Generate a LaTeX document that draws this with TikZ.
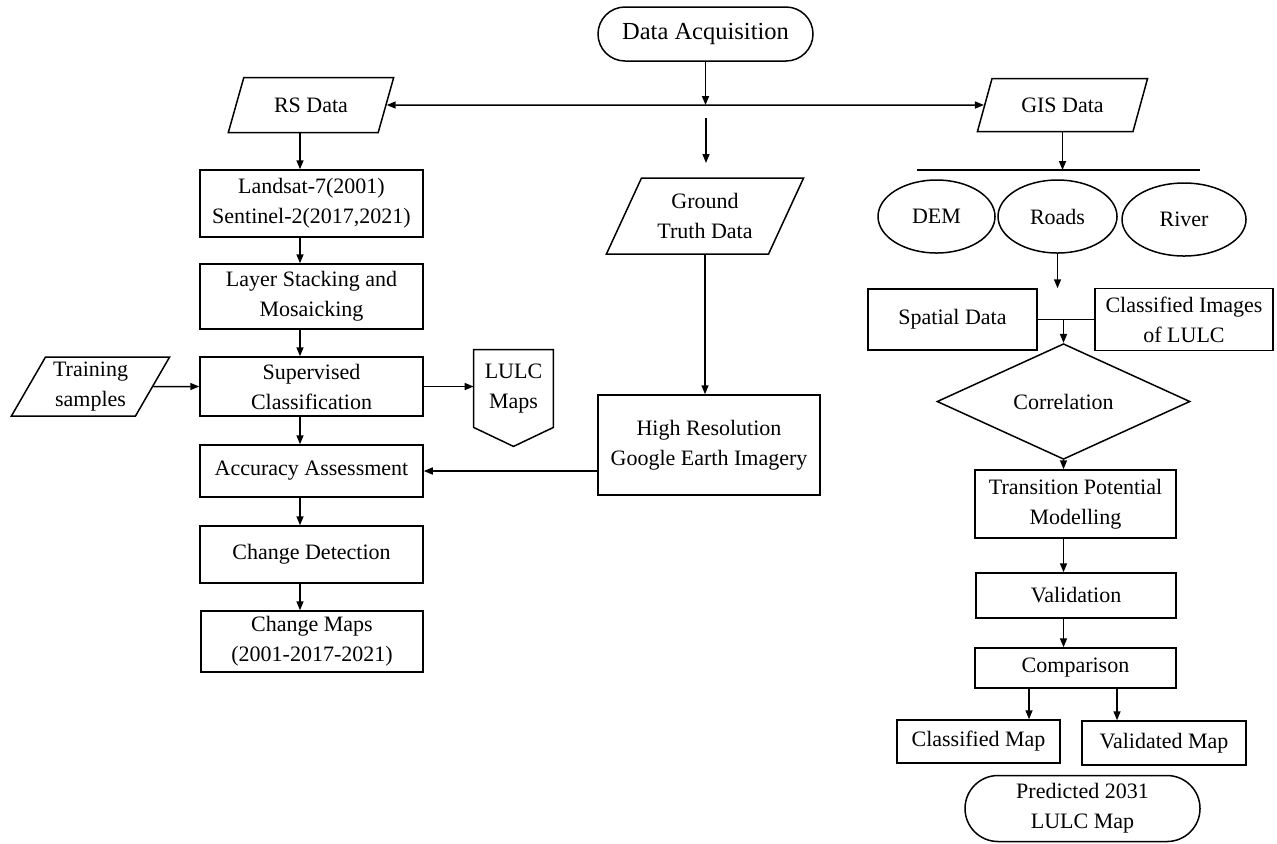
\documentclass[tikz,border=0pt]{standalone}
\usepackage{fontspec}
\setmainfont{Liberation Serif}
\usetikzlibrary{shapes.geometric,shapes.misc,arrows.meta}
\begin{document}
\begin{tikzpicture}[x=0.5pt,y=-0.5pt,
  line/.style={draw, line width=0.75pt},
  arr/.style={line, -{Triangle[length=4.5pt,width=3.5pt]}},
  arrb/.style={line, {Triangle[length=4.5pt,width=3.5pt]}-{Triangle[length=4.5pt,width=3.5pt]}},
  base/.style={line, align=center, inner sep=0pt, font=\fontsize{11}{15}\selectfont},
  box/.style 2 args={base, rectangle, minimum width=#1, minimum height=#2},
  plainbox/.style 2 args={align=center, inner sep=0pt, font=\fontsize{11}{15}\selectfont, rectangle, minimum width=#1, minimum height=#2},
  term/.style 2 args={base, rounded rectangle, minimum width=#1, minimum height=#2},
  para/.style 2 args={base, trapezium, trapezium left angle=60, trapezium right angle=120, trapezium stretches=true, minimum width=#1, minimum height=#2},
  ell/.style 2 args={base, ellipse, minimum width=#1, minimum height=#2},
  dia/.style 2 args={base, diamond, minimum width=#1, minimum height=#2}
]
\fill[white] (0,0) rectangle (1277,843);
\useasboundingbox (0,0) rectangle (1277,843);

% top
\node[term={107.5pt}{27pt}, font=\fontsize{12.25}{15}\selectfont] (da) at (705.5,34) {Data Acquisition};
\node[para={83pt}{27.5pt}] (rs) at (311,105) {RS Data};
\node[para={85.5pt}{26.5pt}] (gis) at (1062.5,105) {GIS Data};

% left column
\node[box={111.5pt}{33.5pt}] (ls) at (311.5,203.5) {Landsat-7(2001)\\Sentinel-2(2017,2021)};
\node[box={111.5pt}{32.5pt}] (lay) at (311.5,296.5) {Layer Stacking and\\Mosaicking};
\node[box={111.5pt}{29.5pt}] (sup) at (311.5,386.5) {Supervised\\Classification};
\node[para={79.5pt}{29.5pt}] (tr) at (90.5,386.5) {Training\\samples};
\node[plainbox={39.5pt}{38.5pt}] (lm) at (513.5,388.5) {LULC\\Maps};
\draw[line] (lm.north west) -- (lm.north east) -- (lm.south east) -- ([yshift=-9.5pt]lm.south) -- (lm.south west) -- cycle;
\node[box={111.5pt}{26pt}] (acc) at (311.5,471) {Accuracy Assessment};
\node[box={111.5pt}{28.5pt}] (cd) at (311.5,554.5) {Change Detection};
\node[box={111pt}{30.5pt}] (cm) at (312,641.5) {Change Maps\\(2001-2017-2021)};

% middle column
\node[para={99pt}{38pt}] (gt) at (705,216) {Ground\\Truth Data};
\node[box={111pt}{50pt}] (hr) at (709,445) {High Resolution\\Google Earth Imagery};

% right column
\node[ell={58.5pt}{36.5pt}] (dem) at (936.5,216.5) {DEM};
\node[ell={59.5pt}{36.5pt}] (roads) at (1057.5,216.5) {Roads};
\node[ell={62pt}{36.5pt}] (river) at (1184,219.5) {River};
\node[box={84.5pt}{30.5pt}] (sp) at (952.5,319.5) {Spatial Data};
\node[box={89pt}{31pt}] (ci) at (1184,319.5) {Classified Images\\of LULC};
\node[dia={126.5pt}{33.5pt}] (cor) at (1063.5,401.5) {Correlation};
\node[box={100.5pt}{34pt}] (tp) at (1075.5,504) {Transition Potential\\Modelling};
\node[box={100pt}{22.5pt}] (val) at (1076,595.5) {Validation};
\node[box={100.5pt}{20pt}] (cmp) at (1075.5,668) {Comparison};
\node[box={81.5pt}{21.5pt}] (clm) at (978.5,741.5) {Classified Map};
\node[box={82pt}{22pt}] (vm) at (1164,743) {Validated Map};
\node[term={117.5pt}{33pt}] (pr) at (1082.5,808.5) {Predicted 2031\\LULC Map};

% connectors
\coordinate (lc) at (300,0);
\coordinate (m1) at (706,118);
\coordinate (m2) at (706,163);
\coordinate (hl1) at (917,170);
\coordinate (hl2) at (1200,170);

\draw[arr] (da.south) -- (da.south |- rs.east);
\draw[arrb] (rs.east) -- (gis.west);
\draw[arr] (m1) -- (m2);
\draw[arr] (gt.south) -- (gt.south |- hr.north);
\draw[arr] (hr.west |- acc.east) -- (acc.east);

\draw[arr] (rs.south -| lc) -- (ls.north -| lc);
\draw[arr] (ls.south -| lc) -- (lay.north -| lc);
\draw[arr] (lay.south -| lc) -- (sup.north -| lc);
\draw[arr] (sup.south -| lc) -- (acc.north -| lc);
\draw[arr] (acc.south -| lc) -- (cd.north -| lc);
\draw[arr] (cd.south -| lc) -- (cm.north -| lc);
\draw[arr] (tr.east) -- (sup.west);
\draw[arr] (sup.east) -- (lm.west |- sup.east);

\draw[line] (hl1) -- (hl2);
\draw[arr] (gis.south) -- (gis.south |- hl1);
\draw[arr] (roads.south) -- (roads.south |- sp.north);
\draw[line] (sp.east) -- (ci.west);
\draw[arr] (cor.north |- sp.east) -- (cor.north);
\draw[arr] (cor.south) -- (cor.south |- tp.north);
\draw[arr] (tp.south -| cor.south) -- (val.north -| cor.south);
\draw[arr] (val.south -| cor.south) -- (cmp.north -| cor.south);
\draw[arr] ([xshift=-23.25pt]cmp.south) -- ([xshift=-23.25pt]cmp.south |- clm.north);
\draw[arr] ([xshift=20.75pt]cmp.south) -- ([xshift=20.75pt]cmp.south |- vm.north);
\end{tikzpicture}
\end{document}
